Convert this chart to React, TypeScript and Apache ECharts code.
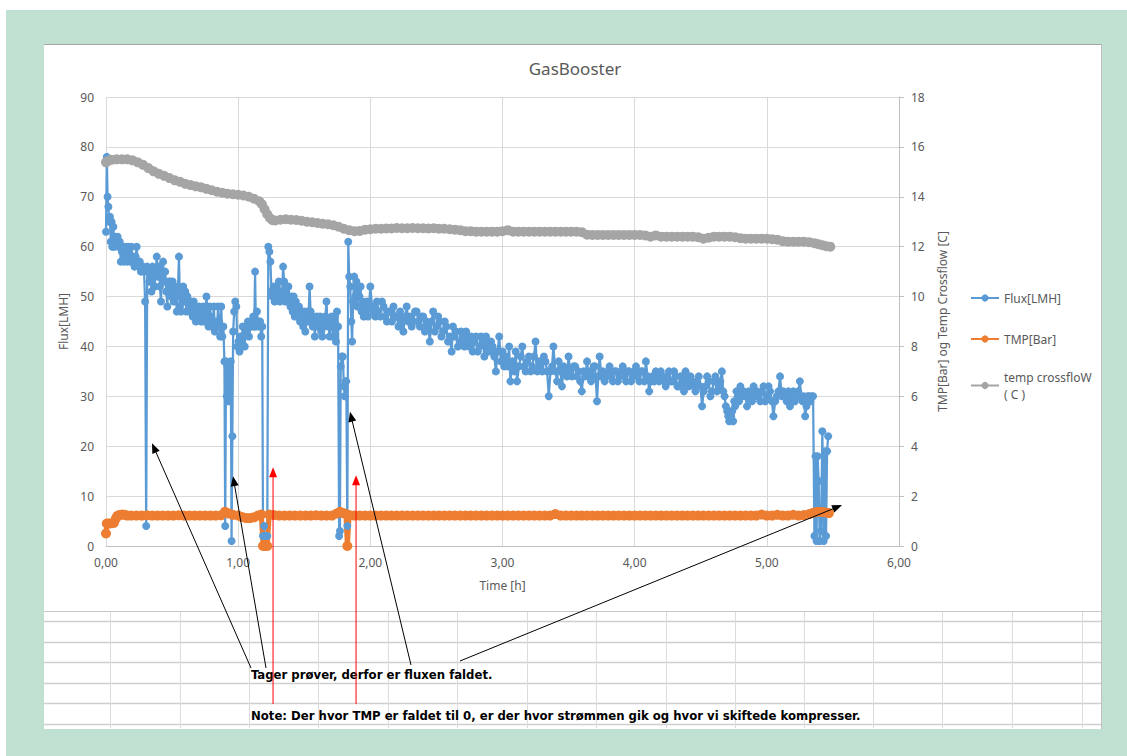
import React, { useEffect, useRef } from "react";
import * as echarts from "echarts";

const TITLE = "GasBooster";
const X_NAME = "Time [h]";
const Y_LEFT_NAME = "Flux[LMH]";
const Y_RIGHT_NAME = "TMP[Bar] og Temp Crossflow [C]";
const SERIES_NAMES = ["Flux[LMH]", "TMP[Bar]", "temp crossfloW\n( C )"];
const NOTE_SAMPLES = "Tager prøver, derfor er fluxen faldet.";
const NOTE_TMP = "Note: Der hvor TMP er faldet til 0, er der hvor strømmen gik og hvor vi skiftede kompresser.";

// Flux [LMH] vs time [h] (left axis)
const fluxData: [number, number][] = [
  [0.000,63],[0.006,78],[0.012,70],[0.018,68],[0.024,65],[0.030,66],[0.036,61],[0.042,65],[0.048,60],[0.056,64],
  [0.064,60],[0.072,62],[0.080,61],[0.088,62],[0.096,60],[0.104,61],[0.112,57],[0.120,59],[0.128,60],[0.136,57],
  [0.144,60],[0.152,58],[0.160,57],[0.168,60],[0.176,59],[0.184,57],[0.192,60],[0.200,58],[0.208,57],[0.216,56],
  [0.224,58],[0.232,60],[0.240,57],[0.248,56],[0.256,57],[0.264,55],[0.272,56],[0.280,56],[0.288,55],[0.296,49],
  [0.304,4],[0.312,56],[0.320,55],[0.328,53],[0.336,55],[0.344,51],[0.352,56],[0.360,54],[0.368,52],[0.376,55],
  [0.384,58],[0.392,54],[0.400,56],[0.408,52],[0.416,49],[0.424,55],[0.432,57],[0.440,53],[0.448,55],[0.456,51],
  [0.464,48],[0.472,53],[0.480,51],[0.488,53],[0.496,50],[0.504,53],[0.512,49],[0.520,52],[0.528,50],[0.536,47],
  [0.544,51],[0.552,58],[0.560,48],[0.568,47],[0.576,50],[0.584,52],[0.592,49],[0.600,51],[0.608,47],[0.616,50],
  [0.624,49],[0.632,47],[0.640,49],[0.648,48],[0.656,46],[0.664,49],[0.672,48],[0.680,45],[0.688,47],[0.696,46],
  [0.704,48],[0.712,46],[0.720,45],[0.728,47],[0.736,48],[0.744,45],[0.752,46],[0.760,50],[0.768,47],[0.776,44],
  [0.784,48],[0.792,46],[0.800,44],[0.808,45],[0.816,48],[0.824,43],[0.832,45],[0.840,44],[0.848,48],[0.856,45],
  [0.864,42],[0.872,48],[0.880,42],[0.888,44],[0.896,37],[0.902,4],[0.908,37],[0.914,30],[0.920,36],[0.926,29],
  [0.932,33],[0.938,36],[0.944,37],[0.950,1],[0.956,22],[0.962,43],[0.970,47],[0.978,49],[0.986,48],[0.994,40],
  [1.002,41],[1.010,39],[1.018,42],[1.026,41],[1.034,44],[1.042,42],[1.050,40],[1.058,44],[1.066,43],[1.074,45],
  [1.082,42],[1.090,44],[1.098,45],[1.106,44],[1.114,46],[1.122,44],[1.128,55],[1.134,44],[1.142,47],[1.150,45],
  [1.158,44],[1.166,45],[1.174,42],[1.182,44],[1.188,2],[1.196,4],[1.204,2],[1.212,2],[1.220,2],[1.228,60],
  [1.236,59],[1.244,57],[1.252,51],[1.260,50],[1.268,52],[1.276,49],[1.284,51],[1.292,52],[1.300,50],[1.308,53],
  [1.316,49],[1.324,51],[1.332,50],[1.340,56],[1.348,53],[1.356,49],[1.364,51],[1.372,50],[1.380,52],[1.388,49],
  [1.396,48],[1.404,50],[1.412,47],[1.420,50],[1.428,46],[1.436,49],[1.444,48],[1.452,46],[1.460,48],[1.468,45],
  [1.476,47],[1.484,46],[1.492,44],[1.500,47],[1.508,43],[1.516,46],[1.524,47],[1.532,45],[1.540,52],[1.548,47],
  [1.556,46],[1.564,44],[1.572,46],[1.580,42],[1.588,45],[1.596,46],[1.604,44],[1.612,45],[1.620,46],[1.628,43],
  [1.636,42],[1.644,45],[1.652,44],[1.660,46],[1.668,49],[1.676,45],[1.684,44],[1.692,42],[1.700,45],[1.708,46],
  [1.716,42],[1.724,44],[1.732,46],[1.740,41],[1.748,47],[1.756,44],[1.764,2],[1.770,3],[1.776,36],[1.784,38],
  [1.792,38],[1.800,32],[1.806,30],[1.812,33],[1.818,33],[1.826,4],[1.833,61],[1.840,54],[1.848,52],[1.856,45],
  [1.862,41],[1.870,49],[1.878,54],[1.886,50],[1.894,53],[1.902,48],[1.910,52],[1.918,50],[1.926,52],[1.934,47],
  [1.942,49],[1.950,46],[1.958,48],[1.966,47],[1.974,49],[1.982,46],[1.990,48],[2.000,52],[2.013,48],[2.025,47],
  [2.038,46],[2.050,49],[2.063,47],[2.075,46],[2.088,49],[2.100,48],[2.113,46],[2.125,45],[2.138,47],[2.150,47],
  [2.163,45],[2.175,48],[2.188,46],[2.200,46],[2.213,44],[2.225,47],[2.238,45],[2.250,43],[2.263,46],[2.275,48],
  [2.288,45],[2.300,46],[2.313,44],[2.325,45],[2.338,47],[2.350,47],[2.363,45],[2.375,44],[2.388,46],[2.400,46],
  [2.413,43],[2.425,45],[2.438,44],[2.450,41],[2.463,45],[2.475,47],[2.488,43],[2.500,44],[2.513,46],[2.525,45],
  [2.538,42],[2.550,43],[2.563,45],[2.575,44],[2.588,41],[2.600,42],[2.615,39],[2.625,44],[2.638,42],[2.650,43],
  [2.663,40],[2.675,41],[2.688,43],[2.700,42],[2.713,40],[2.725,43],[2.738,41],[2.750,40],[2.763,42],[2.775,39],
  [2.788,41],[2.800,42],[2.813,39],[2.825,40],[2.838,42],[2.850,41],[2.863,38],[2.875,42],[2.888,40],[2.900,39],
  [2.913,41],[2.925,40],[2.938,38],[2.950,35],[2.963,39],[2.975,42],[2.988,37],[3.000,39],[3.013,36],[3.025,38],
  [3.038,36],[3.050,40],[3.060,33],[3.075,37],[3.088,35],[3.100,39],[3.110,33],[3.125,36],[3.138,38],[3.150,40],
  [3.163,36],[3.175,35],[3.188,37],[3.200,38],[3.213,35],[3.225,36],[3.238,38],[3.250,41],[3.263,35],[3.275,37],
  [3.288,36],[3.300,35],[3.313,38],[3.325,37],[3.338,35],[3.350,30],[3.363,35],[3.375,36],[3.385,40],[3.400,35],
  [3.413,33],[3.425,37],[3.438,35],[3.450,32],[3.463,36],[3.475,35],[3.488,34],[3.500,38],[3.513,35],[3.525,34],
  [3.538,36],[3.550,36],[3.563,34],[3.575,35],[3.588,33],[3.600,31],[3.613,35],[3.625,34],[3.640,37],[3.650,34],
  [3.660,35],[3.670,33],[3.680,34],[3.690,36],[3.700,36],[3.715,29],[3.725,34],[3.735,38],[3.748,34],[3.760,35],
  [3.773,33],[3.785,34],[3.798,35],[3.810,36],[3.823,34],[3.835,33],[3.848,35],[3.860,35],[3.873,33],[3.885,34],
  [3.898,35],[3.910,36],[3.923,34],[3.935,33],[3.948,35],[3.960,35],[3.973,33],[3.985,34],[3.998,35],[4.010,36],
  [4.023,34],[4.035,33],[4.048,35],[4.060,35],[4.073,33],[4.085,37],[4.098,34],[4.110,31],[4.123,33],[4.135,34],
  [4.148,33],[4.160,35],[4.173,34],[4.185,33],[4.198,35],[4.210,34],[4.223,33],[4.235,32],[4.248,34],[4.260,35],
  [4.273,33],[4.285,33],[4.298,35],[4.310,34],[4.323,32],[4.335,32],[4.348,34],[4.360,33],[4.373,31],[4.385,35],
  [4.398,33],[4.410,32],[4.423,34],[4.435,33],[4.448,32],[4.460,31],[4.473,33],[4.485,34],[4.498,32],[4.510,28],
  [4.523,31],[4.535,32],[4.548,34],[4.560,33],[4.573,30],[4.585,31],[4.598,33],[4.610,34],[4.623,31],[4.635,32],
  [4.648,33],[4.660,35],[4.670,31],[4.680,30],[4.690,28],[4.700,27],[4.708,26],[4.715,25],[4.723,27],[4.730,26],
  [4.738,27],[4.745,25],[4.753,29],[4.760,28],[4.770,31],[4.780,30],[4.790,29],[4.800,32],[4.813,30],[4.825,31],
  [4.838,30],[4.850,28],[4.863,31],[4.875,30],[4.888,29],[4.900,32],[4.913,30],[4.925,31],[4.938,30],[4.950,29],
  [4.963,31],[4.975,32],[4.988,29],[5.000,30],[5.013,32],[5.025,31],[5.038,29],[5.050,26],[5.063,29],[5.075,30],
  [5.088,31],[5.100,34],[5.113,30],[5.125,31],[5.138,30],[5.150,29],[5.163,31],[5.175,28],[5.188,30],[5.200,31],
  [5.213,29],[5.225,30],[5.238,31],[5.250,33],[5.260,30],[5.270,29],[5.280,30],[5.290,26],[5.300,28],[5.310,30],
  [5.320,30],[5.330,29],[5.340,30],[5.350,30],[5.360,2],[5.368,18],[5.376,1],[5.384,18],[5.392,13],[5.400,1],
  [5.410,3],[5.420,23],[5.430,1],[5.440,19],[5.448,2],[5.456,19],[5.464,22]
];

// TMP [Bar] vs time [h] (right axis)
const tmpData: [number, number][] = [
  [0.000,0.50],[0.006,0.90],[0.020,0.90],[0.040,0.91],[0.060,0.93],[0.075,1.10],[0.085,1.20],[0.100,1.24],[0.120,1.26],[0.140,1.25],
  [0.160,1.22],[0.190,1.22],[0.230,1.22],[0.270,1.22],[0.310,1.23],[0.350,1.22],[0.390,1.22],[0.430,1.22],[0.470,1.22],[0.510,1.22],
  [0.550,1.23],[0.590,1.22],[0.630,1.22],[0.670,1.22],[0.710,1.22],[0.750,1.22],[0.790,1.22],[0.830,1.22],[0.870,1.23],[0.900,1.37],
  [0.930,1.30],[0.960,1.25],[1.000,1.22],[1.030,1.16],[1.060,1.12],[1.090,1.12],[1.120,1.15],[1.150,1.22],[1.175,1.26],[1.188,0],
  [1.205,0],[1.220,0],[1.235,1.26],[1.270,1.24],[1.310,1.22],[1.350,1.22],[1.390,1.22],[1.430,1.22],[1.470,1.22],[1.510,1.22],
  [1.550,1.22],[1.590,1.23],[1.630,1.22],[1.670,1.22],[1.710,1.22],[1.745,1.30],[1.770,1.37],[1.795,1.32],[1.815,1.28],[1.826,0],
  [1.840,1.24],[1.880,1.22],[1.920,1.22],[1.960,1.22],[2.000,1.22],[2.040,1.22],[2.080,1.22],[2.120,1.22],[2.160,1.22],[2.200,1.22],
  [2.240,1.22],[2.280,1.22],[2.320,1.22],[2.360,1.22],[2.400,1.22],[2.440,1.22],[2.480,1.22],[2.520,1.22],[2.560,1.22],[2.600,1.22],
  [2.640,1.22],[2.680,1.22],[2.720,1.22],[2.760,1.22],[2.800,1.22],[2.840,1.22],[2.880,1.22],[2.920,1.22],[2.960,1.22],[3.000,1.22],
  [3.040,1.22],[3.080,1.22],[3.120,1.22],[3.160,1.22],[3.200,1.22],[3.240,1.22],[3.280,1.22],[3.320,1.22],[3.360,1.22],[3.400,1.28],
  [3.440,1.22],[3.480,1.22],[3.520,1.22],[3.560,1.22],[3.600,1.22],[3.640,1.22],[3.680,1.22],[3.720,1.22],[3.760,1.22],[3.800,1.22],
  [3.840,1.22],[3.880,1.22],[3.920,1.22],[3.960,1.22],[4.000,1.22],[4.040,1.22],[4.080,1.22],[4.120,1.22],[4.160,1.22],[4.200,1.22],
  [4.240,1.22],[4.280,1.22],[4.320,1.22],[4.360,1.22],[4.400,1.22],[4.440,1.22],[4.480,1.22],[4.520,1.22],[4.560,1.22],[4.600,1.22],
  [4.640,1.22],[4.680,1.22],[4.720,1.22],[4.760,1.22],[4.800,1.22],[4.840,1.22],[4.880,1.22],[4.920,1.22],[4.960,1.26],[5.000,1.22],
  [5.040,1.22],[5.080,1.25],[5.120,1.22],[5.160,1.22],[5.200,1.25],[5.240,1.22],[5.280,1.24],[5.320,1.28],[5.350,1.33],[5.380,1.37],
  [5.410,1.37],[5.440,1.35],[5.470,1.32]
];

// temp crossflow [C] vs time [h] (right axis)
const tempData: [number, number][] = [
  [0.00,15.38],[0.02,15.45],[0.04,15.48],[0.08,15.50],[0.12,15.50],[0.16,15.50],[0.20,15.46],[0.24,15.38],[0.28,15.28],[0.32,15.15],
  [0.36,15.02],[0.40,14.92],[0.44,14.84],[0.48,14.75],[0.52,14.66],[0.56,14.60],[0.60,14.52],[0.64,14.47],[0.68,14.42],[0.72,14.38],
  [0.76,14.32],[0.80,14.26],[0.84,14.20],[0.88,14.16],[0.92,14.12],[0.96,14.10],[1.00,14.08],[1.04,14.05],[1.08,14.00],[1.12,13.92],
  [1.16,13.82],[1.18,13.70],[1.20,13.50],[1.22,13.30],[1.24,13.15],[1.26,13.06],[1.28,13.05],[1.32,13.08],[1.36,13.10],[1.40,13.08],
  [1.44,13.07],[1.48,13.04],[1.52,13.00],[1.56,12.98],[1.60,12.95],[1.64,12.92],[1.68,12.90],[1.72,12.86],[1.76,12.80],[1.80,12.72],
  [1.84,12.66],[1.88,12.62],[1.92,12.63],[1.96,12.68],[2.00,12.70],[2.04,12.72],[2.08,12.72],[2.12,12.73],[2.16,12.73],[2.20,12.75],
  [2.24,12.74],[2.28,12.74],[2.32,12.75],[2.36,12.74],[2.40,12.74],[2.44,12.73],[2.48,12.74],[2.52,12.72],[2.56,12.72],[2.60,12.70],
  [2.64,12.68],[2.68,12.66],[2.72,12.62],[2.76,12.62],[2.80,12.60],[2.84,12.60],[2.88,12.60],[2.92,12.60],[2.96,12.60],[3.00,12.62],
  [3.04,12.66],[3.08,12.60],[3.12,12.60],[3.16,12.60],[3.20,12.60],[3.24,12.60],[3.28,12.60],[3.32,12.60],[3.36,12.60],[3.40,12.60],
  [3.44,12.60],[3.48,12.60],[3.52,12.60],[3.56,12.60],[3.60,12.58],[3.64,12.48],[3.68,12.47],[3.72,12.47],[3.76,12.47],[3.80,12.47],
  [3.84,12.47],[3.88,12.47],[3.92,12.47],[3.96,12.47],[4.00,12.47],[4.04,12.47],[4.08,12.45],[4.12,12.40],[4.16,12.45],[4.20,12.40],
  [4.24,12.40],[4.28,12.40],[4.32,12.40],[4.36,12.40],[4.40,12.40],[4.44,12.40],[4.48,12.38],[4.52,12.32],[4.56,12.36],[4.60,12.40],
  [4.64,12.40],[4.68,12.40],[4.72,12.40],[4.76,12.38],[4.80,12.34],[4.84,12.32],[4.88,12.32],[4.92,12.32],[4.96,12.32],[5.00,12.32],
  [5.04,12.30],[5.08,12.28],[5.12,12.22],[5.16,12.20],[5.20,12.20],[5.24,12.20],[5.28,12.20],[5.32,12.18],[5.36,12.14],[5.39,12.10],
  [5.42,12.06],[5.45,12.02],[5.48,12.00]
];

// Annotation arrows: tail in page pixels, tip in chart data coords (time, flux)
const sampleArrowTails: [number, number][] = [[251, 668], [266, 668], [411, 665], [460, 661]];
const sampleArrowTips: [number, number][] = [[0.348, 20.6], [0.961, 14.0], [1.846, 26.9], [5.569, 8.2]];
const tmpArrowTips: [number, number][] = [[1.264, 15.8], [1.892, 14.2]];
const TMP_ARROW_BOTTOM = 704;

// Spreadsheet grid below the chart
const sheetCols = [110, 180, 249, 318, 388, 457, 527, 596, 666, 735, 804, 873, 942, 1012, 1082];
const sheetRows = [621, 642, 662, 683, 703, 724];

const FONT = "'Noto Sans', 'Open Sans', sans-serif";
const GREY_TXT = "#595959";

function arrow(x0: number, y0: number, x1: number, y1: number, color: string, len = 10, half = 4) {
  const dx = x1 - x0, dy = y1 - y0;
  const L = Math.sqrt(dx * dx + dy * dy) || 1;
  const ux = dx / L, uy = dy / L;
  const nx = -uy, ny = ux;
  const bx = x1 - ux * len, by = y1 - uy * len;
  return [
    { type: "line", z: 100, silent: true, shape: { x1: x0, y1: y0, x2: bx + ux * 2, y2: by + uy * 2 }, style: { stroke: color, lineWidth: 1 } },
    { type: "polygon", z: 100, silent: true, shape: { points: [[x1, y1], [bx + nx * half, by + ny * half], [bx - nx * half, by - ny * half]] }, style: { fill: color } },
  ];
}

export default function App() {
  const ref = useRef<HTMLDivElement>(null);
  useEffect(() => {
    const chart = echarts.init(ref.current!, null, { renderer: "svg" });
    const legendBase = {
      orient: "vertical",
      left: 970,
      padding: 0,
      itemWidth: 28,
      itemHeight: 9,
      textStyle: { color: GREY_TXT, fontSize: 12, fontFamily: FONT },
    };
    const option: any = {
      animation: false,
      title: {
        text: TITLE,
        left: 570,
        top: 55,
        textAlign: "center",
        textStyle: { color: GREY_TXT, fontSize: 17, fontWeight: "normal", fontFamily: FONT },
      },
      legend: [
        { ...legendBase, top: 292, data: [SERIES_NAMES[0]] },
        { ...legendBase, top: 333, data: [SERIES_NAMES[1]] },
        {
          ...legendBase,
          top: 360,
          data: [{ name: SERIES_NAMES[2], textStyle: { color: GREY_TXT, fontSize: 12, fontFamily: FONT, lineHeight: 17, padding: [17, 0, 0, 0] } }],
        },
      ],
      grid: { left: 106, right: 228, top: 97, bottom: 210, containLabel: false },
      xAxis: {
        type: "value",
        min: 0,
        max: 6,
        interval: 1,
        name: X_NAME,
        nameLocation: "middle",
        nameGap: 33,
        nameTextStyle: { color: GREY_TXT, fontSize: 12, fontFamily: FONT },
        axisLine: { lineStyle: { color: "#bfbfbf" } },
        axisTick: { show: false },
        axisLabel: { color: GREY_TXT, fontSize: 12, fontFamily: FONT, margin: 10, formatter: (v: number) => v.toFixed(2).replace(".", ",") },
        splitLine: { show: true, lineStyle: { color: "#d9d9d9" } },
      },
      yAxis: [
        {
          type: "value",
          min: 0,
          max: 90,
          interval: 10,
          name: Y_LEFT_NAME,
          nameLocation: "middle",
          nameRotate: 90,
          nameGap: 30,
          nameTextStyle: { color: GREY_TXT, fontSize: 12, fontFamily: FONT },
          axisLine: { show: false },
          axisTick: { show: false },
          axisLabel: { color: GREY_TXT, fontSize: 12, fontFamily: FONT, margin: 12 },
          splitLine: { show: true, lineStyle: { color: "#d9d9d9" } },
        },
        {
          type: "value",
          position: "right",
          min: 0,
          max: 18,
          interval: 2,
          name: Y_RIGHT_NAME,
          nameLocation: "middle",
          nameRotate: 90,
          nameGap: 37,
          nameTextStyle: { color: GREY_TXT, fontSize: 12, fontFamily: FONT },
          axisLine: { show: true, lineStyle: { color: "#bfbfbf" } },
          axisTick: { show: true, length: 5, lineStyle: { color: "#bfbfbf" } },
          axisLabel: { color: GREY_TXT, fontSize: 12, fontFamily: FONT, margin: 12 },
          splitLine: { show: false },
        },
      ],
      series: [
        {
          name: SERIES_NAMES[0],
          type: "line",
          data: fluxData,
          yAxisIndex: 0,
          symbol: "circle",
          symbolSize: 8,
          showAllSymbol: true,
          color: "#5b9bd5",
          lineStyle: { width: 2.25, color: "#5b9bd5" },
          itemStyle: { color: "#5b9bd5" },
        },
        {
          name: SERIES_NAMES[1],
          type: "line",
          data: tmpData,
          yAxisIndex: 1,
          symbol: "circle",
          symbolSize: 10,
          showAllSymbol: true,
          color: "#ed7d31",
          lineStyle: { width: 5, color: "#ed7d31" },
          itemStyle: { color: "#ed7d31" },
        },
        {
          name: SERIES_NAMES[2],
          type: "line",
          data: tempData,
          yAxisIndex: 1,
          symbol: "circle",
          symbolSize: 10,
          showAllSymbol: true,
          color: "#a5a5a5",
          lineStyle: { width: 4, color: "#a5a5a5" },
          itemStyle: { color: "#a5a5a5" },
        },
      ],
    };
    chart.setOption(option);

    const graphics: any[] = [];
    // spreadsheet grid
    sheetRows.forEach((y) => {
      graphics.push({ type: "line", z: 1, silent: true, shape: { x1: 44, y1: y + 0.5, x2: 1101, y2: y + 0.5 }, style: { stroke: "#cfcfcf", lineWidth: 1.5 } });
    });
    graphics.push({ type: "line", z: 1, silent: true, shape: { x1: 44, y1: 611.5, x2: 1101, y2: 611.5 }, style: { stroke: "#c8c8c8", lineWidth: 1 } });
    sheetCols.forEach((x) => {
      graphics.push({ type: "line", z: 1, silent: true, shape: { x1: x + 0.5, y1: 612, x2: x + 0.5, y2: 728 }, style: { stroke: "#dcdcdc", lineWidth: 1 } });
    });
    // notes
    const noteFont = "bold 13px 'Liberation Sans Narrow', 'DejaVu Sans Condensed', sans-serif";
    graphics.push({ type: "text", z: 100, silent: true, x: 251, y: 674, style: { text: NOTE_SAMPLES, font: noteFont, fill: "#000", align: "left", verticalAlign: "middle" } });
    graphics.push({ type: "text", z: 100, silent: true, x: 251, y: 715, style: { text: NOTE_TMP, font: noteFont, fill: "#000", align: "left", verticalAlign: "middle" } });
    // arrows
    sampleArrowTips.forEach((tip, i) => {
      const p = chart.convertToPixel({ xAxisIndex: 0, yAxisIndex: 0 }, tip) as number[];
      const t = sampleArrowTails[i];
      graphics.push(...arrow(t[0], t[1], p[0], p[1], "#000000"));
    });
    tmpArrowTips.forEach((tip) => {
      const p = chart.convertToPixel({ xAxisIndex: 0, yAxisIndex: 0 }, tip) as number[];
      graphics.push(...arrow(p[0], TMP_ARROW_BOTTOM, p[0], p[1], "#ff0000", 10, 4));
    });
    chart.setOption({ graphic: graphics });

    return () => chart.dispose();
  }, []);

  return (
    <div style={{ position: "absolute", left: 0, top: 0, width: 1127, height: 756, background: "#ffffff", overflow: "hidden" }}>
      <div style={{ position: "absolute", left: 6, top: 10, right: 0, bottom: 0, background: "#c0e1d1" }} />
      <div
        style={{
          position: "absolute",
          left: 44,
          top: 44,
          width: 1057,
          height: 684,
          background: "#ffffff",
          borderTop: "1px solid #a6a6a6",
          borderRight: "1px solid #c0c0c0",
        }}
      />
      <div ref={ref} style={{ position: "absolute", left: 0, top: 0, width: 1127, height: 756 }} />
    </div>
  );
}
